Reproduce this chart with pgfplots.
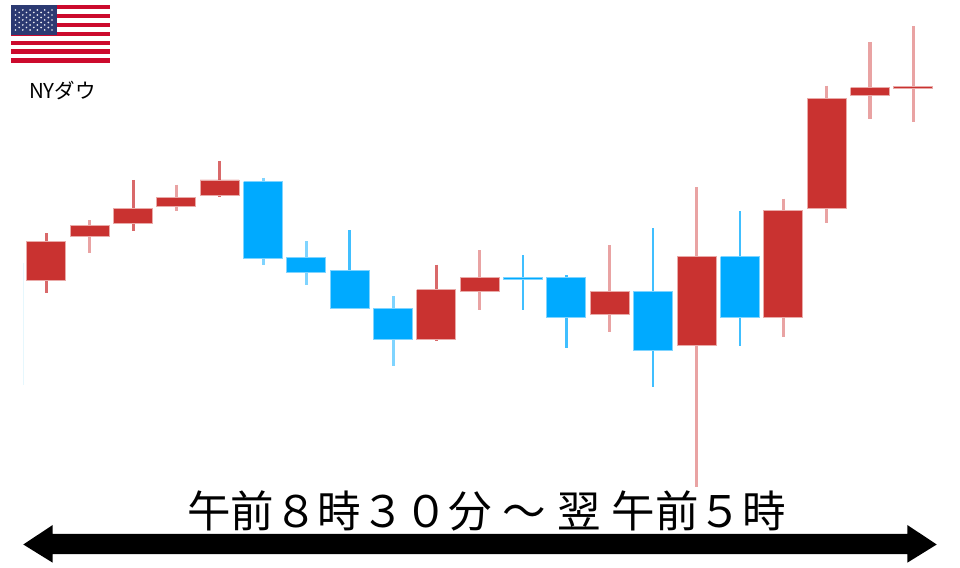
\documentclass[border=0pt]{standalone}
\usepackage{fontspec}
\setmainfont{Noto Sans CJK JP}
\usepackage{pgfplots}
\pgfplotsset{compat=1.18}
\definecolor{cred}{HTML}{C93230}
\definecolor{cblue}{HTML}{00AAFF}
\definecolor{credf}{HTML}{E9AAA8}
\definecolor{cbluef}{HTML}{7FD4FF}
\definecolor{wdark}{HTML}{D9696A}
\definecolor{wlight}{HTML}{E9A3A3}
\definecolor{wblue}{HTML}{40BFFF}
\definecolor{wbluel}{HTML}{7FD4FF}
\definecolor{fred}{HTML}{CC0A2D}
\definecolor{fblue}{HTML}{2C3A72}
\begin{document}
\begin{tikzpicture}[x=1pt,y=1pt]
\path[use as bounding box] (0,0) rectangle (960,567);
\begin{axis}[
  at={(0pt,0pt)}, anchor=south west,
  scale only axis, width=960pt, height=567pt,
  hide axis, xmin=0, xmax=960, ymin=0, ymax=567, y dir=reverse,
  clip=false, unbounded coords=jump,
  every axis plot/.append style={no markers, line cap=butt, line join=miter}]
% faint line at the left edge
\addplot[draw=black!0!cyan!10!white, line width=1.2pt] table {
x y
23.7 263
23.7 385
};
% wicks, dark red
\addplot[draw=wdark, line width=3pt] table {
x y
46.3 233
46.3 292.7

133 180
133 231

219.7 161
219.7 197

436.3 264.7
436.3 341
};
% wicks, light red
\addplot[draw=wlight, line width=3.2pt] table {
x y
89.7 220
89.7 253

176.3 184.7
176.3 211

479.7 250
479.7 310

609.7 245
609.7 331.7

696.7 187
696.7 486.7

783.3 198.7
783.3 336.7

826.7 85.7
826.7 223

870 42
870 118.7

913.3 26
913.3 121.7
};
% wicks, blue
\addplot[draw=wblue, line width=2.8pt] table {
x y
349.7 230
349.7 308

566.3 275
566.3 347.7

653 228
653 386.7

740 211
740 345.7

523 255
523 310
};
% wicks, light blue
\addplot[draw=wbluel, line width=3pt] table {
x y
263 178
263 264.7

306.3 241
306.3 285

393 296
393 366
};
% red bodies
\addplot[fill=cred, draw=credf, line width=0.9pt] table {
x y
26.8 241
65.8 241
65.8 280
26.8 280
26.8 241

70.2 225.7
109.2 225.7
109.2 236
70.2 236
70.2 225.7

113.5 208
152.5 208
152.5 223
113.5 223
113.5 208

156.8 197
195.8 197
195.8 206
156.8 206
156.8 197

200.2 180
239.2 180
239.2 195
200.2 195
200.2 180

416.8 289.7
455.8 289.7
455.8 339.3
416.8 339.3
416.8 289.7

460.2 277
499.2 277
499.2 291
460.2 291
460.2 277

590.2 291
629.2 291
629.2 314.7
590.2 314.7
590.2 291

677.2 256.7
716.2 256.7
716.2 345.7
677.2 345.7
677.2 256.7

763.8 210
802.8 210
802.8 317.7
763.8 317.7
763.8 210

807.2 98.3
846.2 98.3
846.2 208
807.2 208
807.2 98.3

850.5 87.7
889.5 87.7
889.5 95
850.5 95
850.5 87.7

893.8 86.2
932.8 86.2
932.8 88.5
893.8 88.5
893.8 86.2
};
% blue bodies
\addplot[fill=cblue, draw=cbluef, line width=0.9pt] table {
x y
243.5 181.7
282.5 181.7
282.5 258
243.5 258
243.5 181.7

286.8 257
325.8 257
325.8 272
286.8 272
286.8 257

330.2 270.7
369.2 270.7
369.2 308
330.2 308
330.2 270.7

373.5 308
412.5 308
412.5 339.3
373.5 339.3
373.5 308

503.5 277.4
542.5 277.4
542.5 279.8
503.5 279.8
503.5 277.4

546.8 277
585.8 277
585.8 317.7
546.8 317.7
546.8 277

633.5 291
672.5 291
672.5 350.3
633.5 350.3
633.5 291

720.5 256.7
759.5 256.7
759.5 317.7
720.5 317.7
720.5 256.7
};
\end{axis}
% flag
\fill[white] (11,504.3) rectangle (110,562);
\foreach \i in {0,2,...,12}
  \fill[fred] (11,{562-\i*4.44}) rectangle (110,{562-(\i+1)*4.44});
\fill[fblue] (11,532) rectangle (56.7,562);
\foreach \r in {0,2,4,6,8}
  \foreach \c in {0,...,5}
    \fill[white!90!fblue] ({15.5+\c*7.3},{557-\r*2.5}) circle (0.95);
\foreach \r in {1,3,5,7}
  \foreach \c in {0,...,4}
    \fill[white!90!fblue] ({19.2+\c*7.3},{557-\r*2.5}) circle (0.95);
% arrow
\fill[black] (23.3,22.5) -- (52.7,42) -- (52.7,33) -- (907.3,33) -- (907.3,42) -- (936.7,22.5)
  -- (907.3,4.3) -- (907.3,13) -- (52.7,13) -- (52.7,4.3) -- cycle;
% text
\node[anchor=base, font=\fontsize{20.5}{24}\selectfont, inner sep=0pt] at (62.5,468.5) {NYダウ};
\node[anchor=base west, font=\fontsize{43.5}{50}\selectfont, inner sep=0pt] at (187,39) {午前８時３０分\hspace{11pt}～\hspace{11pt}翌\hspace{11pt}午前５時};
\end{tikzpicture}
\end{document}
